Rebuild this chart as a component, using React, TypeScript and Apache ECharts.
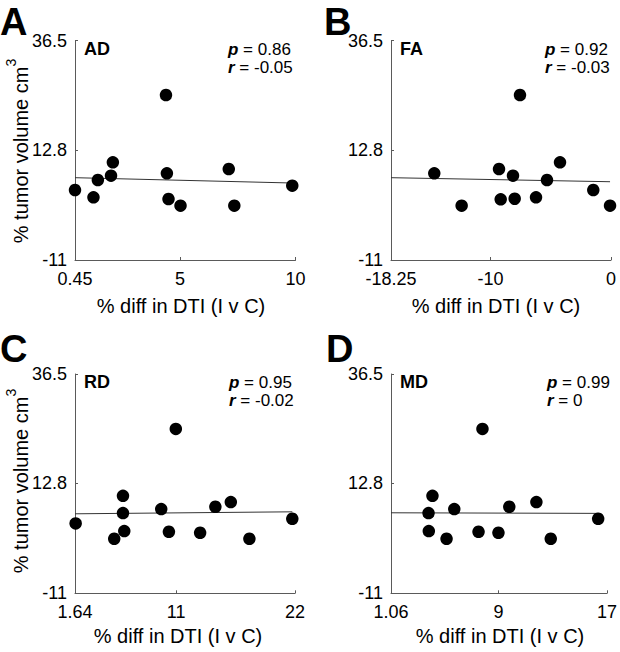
import React, { useEffect, useRef } from "react";
import * as echarts from "echarts";

const FONT = "'Liberation Sans', Arial, Helvetica, sans-serif";

// ---- texts ----
const panelLetters = ["A", "B", "C", "D"];
const metricNames = ["AD", "FA", "RD", "MD"];
const pValues = ["0.86", "0.92", "0.95", "0.99"];
const rValues = ["-0.05", "-0.03", "-0.02", "0"];
const xTitle = "% diff in DTI (I v C)";
const yTitle = "% tumor volume cm";

// ---- tick labels ----
const yTicks = [-11, 12.8, 36.5];
const xTicksAD = [0.45, 5, 10];
const xTicksFA = [-18.25, -10, 0];
const xTicksRD = [1.64, 11, 22];
const xTicksMD = [1.06, 9, 17];

// ---- data: AD ----
const adX = [0.45, 1.25, 1.44, 2.01, 2.09, 4.39, 4.43, 4.5, 5.02, 7.11, 7.35, 9.86];
const adY = [4.14, 2.57, 6.31, 7.24, 10.14, 24.7, 7.76, 2.2, 0.75, 8.69, 0.75, 5.08];
const adFitX = [0.45, 9.86];
const adFitY = [6.81, 5.66];

// ---- data: FA ----
const faX = [-14.66, -12.39, -9.29, -9.15, -8.13, -7.99, -7.55, -6.22, -5.31, -4.23, -1.47, -0.08];
const faY = [7.76, 0.75, 8.69, 2.13, 7.24, 2.26, 24.7, 2.57, 6.31, 10.14, 4.14, 0.75];
const faFitX = [-18.25, -0.08];
const faFitY = [6.81, 5.94];

// ---- data: RD ----
const rdX = [1.7, 5.27, 6.08, 6.08, 6.2, 9.62, 10.33, 10.97, 13.22, 14.63, 16.06, 17.78, 21.75];
const rdY = [4.14, 0.81, 10.12, 6.37, 2.48, 7.24, 2.33, 24.61, 2.11, 7.74, 8.75, 0.81, 5.14];
const rdFitX = [1.64, 21.75];
const rdFitY = [6.22, 6.65];

// ---- data: MD ----
const mdX = [3.83, 3.85, 4.12, 5.16, 5.73, 7.52, 7.81, 8.99, 9.79, 11.79, 12.85, 16.35];
const mdY = [6.37, 2.48, 10.12, 0.81, 7.24, 2.33, 24.61, 2.11, 7.74, 8.75, 0.81, 5.14];
const mdFitX = [1.06, 16.35];
const mdFitY = [6.44, 6.31];

const panels = [
  { xTicks: xTicksAD, xs: adX, ys: adY, fx: adFitX, fy: adFitY },
  { xTicks: xTicksFA, xs: faX, ys: faY, fx: faFitX, fy: faFitY },
  { xTicks: xTicksRD, xs: rdX, ys: rdY, fx: rdFitX, fy: rdFitY },
  { xTicks: xTicksMD, xs: mdX, ys: mdY, fx: mdFitX, fy: mdFitY },
];

// ---- layout ----
const layouts = [
  { left: 75, top: 40.5, width: 220.5, height: 219.5, letterX: 0, letterY: 21.5, pX: 228, titleX: 181, titleY: 306 },
  { left: 391, top: 40.5, width: 220, height: 219.5, letterX: 324, letterY: 21.5, pX: 545, titleX: 496, titleY: 306 },
  { left: 75, top: 374, width: 220, height: 219.3, letterX: 0, letterY: 349, pX: 229, titleX: 178, titleY: 636 },
  { left: 391, top: 374, width: 220, height: 219.3, letterX: 326, letterY: 349, pX: 547, titleX: 500, titleY: 636 },
];
const yTitleLayout = [
  { x: 20.5, y: 151 },
  { x: 20.5, y: 481 },
];

const AXIS_COLOR = "#5a5a5a";

function zip(a: number[], b: number[]) {
  return a.map((v, i) => [v, b[i]]);
}

export default function App() {
  const ref = useRef<HTMLDivElement>(null);
  useEffect(() => {
    if (!ref.current) return;
    const chart = echarts.init(ref.current, undefined, { renderer: "svg" });

    const grid = layouts.map((l) => ({ left: l.left, top: l.top, width: l.width, height: l.height }));

    const xAxis = panels.map((p, i) => ({
      type: "value",
      gridIndex: i,
      min: p.xTicks[0],
      max: p.xTicks[p.xTicks.length - 1],
      splitLine: { show: false },
      axisLine: { show: true, onZero: false, lineStyle: { color: AXIS_COLOR, width: 1 } },
      axisTick: { show: true, inside: true, length: 3, customValues: p.xTicks, lineStyle: { color: AXIS_COLOR } },
      axisLabel: {
        show: true,
        customValues: p.xTicks,
        margin: 10,
        color: "#000",
        fontSize: 18,
        fontFamily: FONT,
        formatter: (v: number) => String(v),
      },
    }));

    const yAxis = panels.map((_, i) => ({
      type: "value",
      gridIndex: i,
      min: yTicks[0],
      max: yTicks[yTicks.length - 1],
      splitLine: { show: false },
      axisLine: { show: true, onZero: false, lineStyle: { color: AXIS_COLOR, width: 1 } },
      axisTick: { show: true, inside: true, length: 3, customValues: yTicks, lineStyle: { color: AXIS_COLOR } },
      axisLabel: {
        show: true,
        customValues: yTicks,
        margin: 8,
        color: "#000",
        fontSize: 18,
        fontFamily: FONT,
        padding: [4, 0, 0, 0],
        formatter: (v: number) => String(v),
      },
    }));

    const series: any[] = [];
    panels.forEach((p, i) => {
      series.push({
        type: "line",
        xAxisIndex: i,
        yAxisIndex: i,
        data: zip(p.fx, p.fy),
        symbol: "none",
        lineStyle: { color: "#333", width: 1 },
        z: 2,
        silent: true,
      });
      series.push({
        type: "scatter",
        xAxisIndex: i,
        yAxisIndex: i,
        data: zip(p.xs, p.ys),
        symbol: "circle",
        symbolSize: 12.5,
        itemStyle: { color: "#000", opacity: 1 },
        clip: false,
        z: 3,
      });
    });

    const graphic: any[] = [];
    layouts.forEach((l, i) => {
      graphic.push({
        type: "text",
        x: l.letterX,
        y: l.letterY,
        style: {
          text: panelLetters[i],
          fontSize: 38,
          fontWeight: "bold",
          fontFamily: FONT,
          fill: "#000",
          align: "left",
          verticalAlign: "middle",
        },
      });
      graphic.push({
        type: "text",
        x: l.left + 9,
        y: l.top + 8,
        style: {
          text: metricNames[i],
          fontSize: 18,
          fontWeight: "bold",
          fontFamily: FONT,
          fill: "#000",
          align: "left",
          verticalAlign: "middle",
        },
      });
      graphic.push({
        type: "text",
        x: l.pX,
        y: l.top - 0.5,
        style: {
          text: `{b|p} = ${pValues[i]}\n{b|r} = ${rValues[i]}`,
          fontSize: 17,
          lineHeight: 18,
          fontFamily: FONT,
          fill: "#000",
          align: "left",
          verticalAlign: "top",
          rich: {
            b: { fontSize: 17, lineHeight: 18, fontWeight: "bold", fontStyle: "italic", fontFamily: FONT, fill: "#000" },
          },
        },
      });
      graphic.push({
        type: "text",
        x: l.titleX,
        y: l.titleY,
        style: {
          text: xTitle,
          fontSize: 20,
          fontFamily: FONT,
          fill: "#000",
          align: "center",
          verticalAlign: "middle",
        },
      });
    });
    yTitleLayout.forEach((t) => {
      graphic.push({
        type: "text",
        x: t.x,
        y: t.y,
        rotation: Math.PI / 2,
        style: {
          text: `{n|${yTitle}}{sup|3}`,
          fill: "#000",
          align: "center",
          verticalAlign: "middle",
          rich: {
            n: { fontSize: 20, lineHeight: 34, fontFamily: FONT, fill: "#000" },
            sup: { fontSize: 14, lineHeight: 14, fontFamily: FONT, fill: "#000", verticalAlign: "top" },
          },
        },
      });
    });

    chart.setOption({
      animation: false,
      backgroundColor: "#fff",
      grid,
      xAxis,
      yAxis,
      series,
      graphic,
    });
    return () => chart.dispose();
  }, []);

  return (
    <div
      ref={ref}
      style={{ position: "fixed", left: 0, top: 0, width: 620, height: 652, background: "#fff" }}
    />
  );
}
